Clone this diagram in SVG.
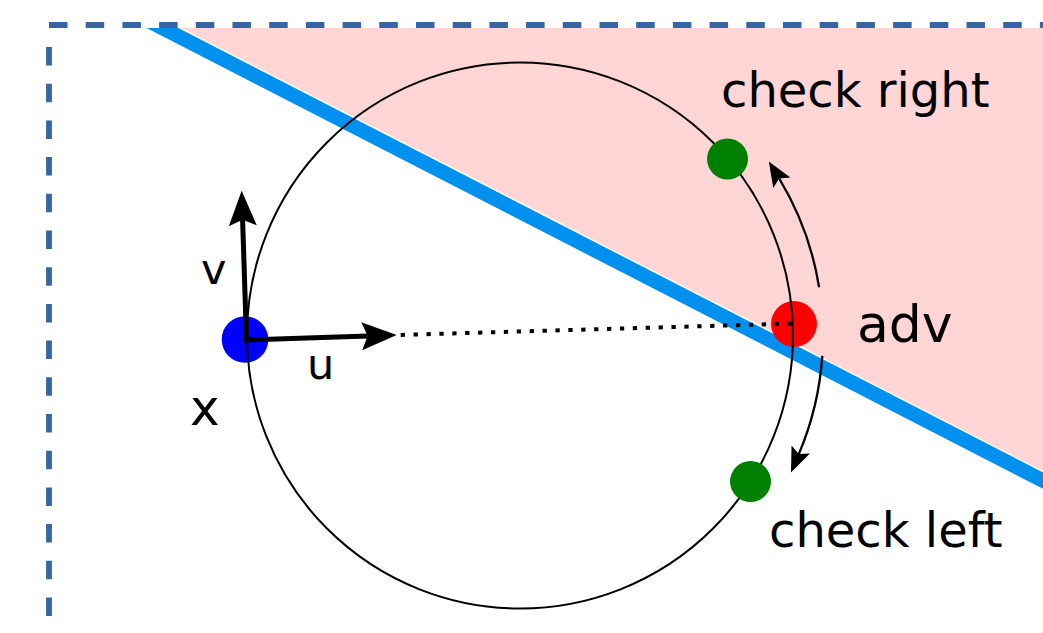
<svg xmlns="http://www.w3.org/2000/svg" width="1043" height="633" viewBox="0 0 1043 633">
  <style>
    .lbl { font-family: "DejaVu Sans", sans-serif; fill: #000; }
    .border { stroke: #3465a4; stroke-width: 5.8; fill: none; stroke-dasharray: 18.5 18.2; }
    .vec { stroke: #000; stroke-width: 5; fill: none; marker-end: url(#bigHead); }
    .turn { stroke: #000; stroke-width: 2.3; fill: none; marker-end: url(#smallHead); }
  </style>
  <defs>
    <clipPath id="below">
      <rect x="0" y="28" width="1043" height="605"/>
    </clipPath>
    <marker id="bigHead" markerUnits="userSpaceOnUse" viewBox="-37 -15 38 30" markerWidth="38" markerHeight="30" refX="-29" refY="0" orient="auto" overflow="visible">
      <path d="M0,0 L-35,-14 L-29,0 L-35,14 Z" fill="#000"/>
    </marker>
    <marker id="smallHead" markerUnits="userSpaceOnUse" viewBox="-26 -11 27 22" markerWidth="27" markerHeight="22" refX="-20" refY="0" orient="auto" overflow="visible">
      <path d="M0,0 L-25,-10 L-20,0 L-25,10 Z" fill="#000"/>
    </marker>
  </defs>

  <rect width="1043" height="633" fill="#fff"/>

  <g id="halfplane" clip-path="url(#below)">
    <polygon points="100,-4.1 1100,-4.1 1100,509.9" fill="#ffd5d5"/>
    <line x1="100" y1="-4.1" x2="1100" y2="509.9" stroke="#ffffff" stroke-width="17.5"/>
    <line x1="100" y1="-4.1" x2="1100" y2="509.9" stroke="#0091ee" stroke-width="14.5"/>
  </g>

  <g id="frame">
    <line class="border" x1="49" y1="25" x2="1060" y2="25"/>
    <line class="border" x1="49" y1="47" x2="49" y2="650"/>
  </g>

  <g id="x-point">
    <circle cx="245" cy="339.5" r="23.3" fill="#0000ff"/>
  </g>
  <g id="adv-point">
    <circle cx="794" cy="324" r="23" fill="#ff0000"/>
  </g>

  <g id="sphere">
    <circle cx="520" cy="335.5" r="273" fill="none" stroke="#000" stroke-width="2"/>
  </g>

  <g id="check-right-point">
    <circle cx="727.5" cy="159" r="20.5" fill="#008000"/>
  </g>
  <g id="check-left-point">
    <circle cx="750.5" cy="481.5" r="20.5" fill="#008000"/>
  </g>

  <g id="connectors">
    <line x1="400.7" y1="335" x2="792" y2="323.5" stroke="#000" stroke-width="4" stroke-dasharray="4.3 8.6"/>
    <line class="vec" x1="246.5" y1="340" x2="242.6" y2="219.7"/>
    <line class="vec" x1="244.2" y1="340" x2="367.7" y2="336"/>
    <path class="turn" d="M819.1,287.2 A303,303 0 0 0 779.2,178.5"/>
    <path class="turn" d="M822.3,355.9 A303,303 0 0 1 798.8,454.1"/>
  </g>

  <g id="labels">
    <text class="lbl" x="721" y="106.7" font-size="48">check right</text>
    <text class="lbl" x="857" y="341.7" font-size="52">adv</text>
    <text class="lbl" x="769" y="546.7" font-size="48">check left</text>
    <text class="lbl" x="201" y="284" font-size="43">v</text>
    <text class="lbl" x="307" y="378.5" font-size="43">u</text>
    <text class="lbl" x="190" y="425" font-size="50">x</text>
  </g>
</svg>
